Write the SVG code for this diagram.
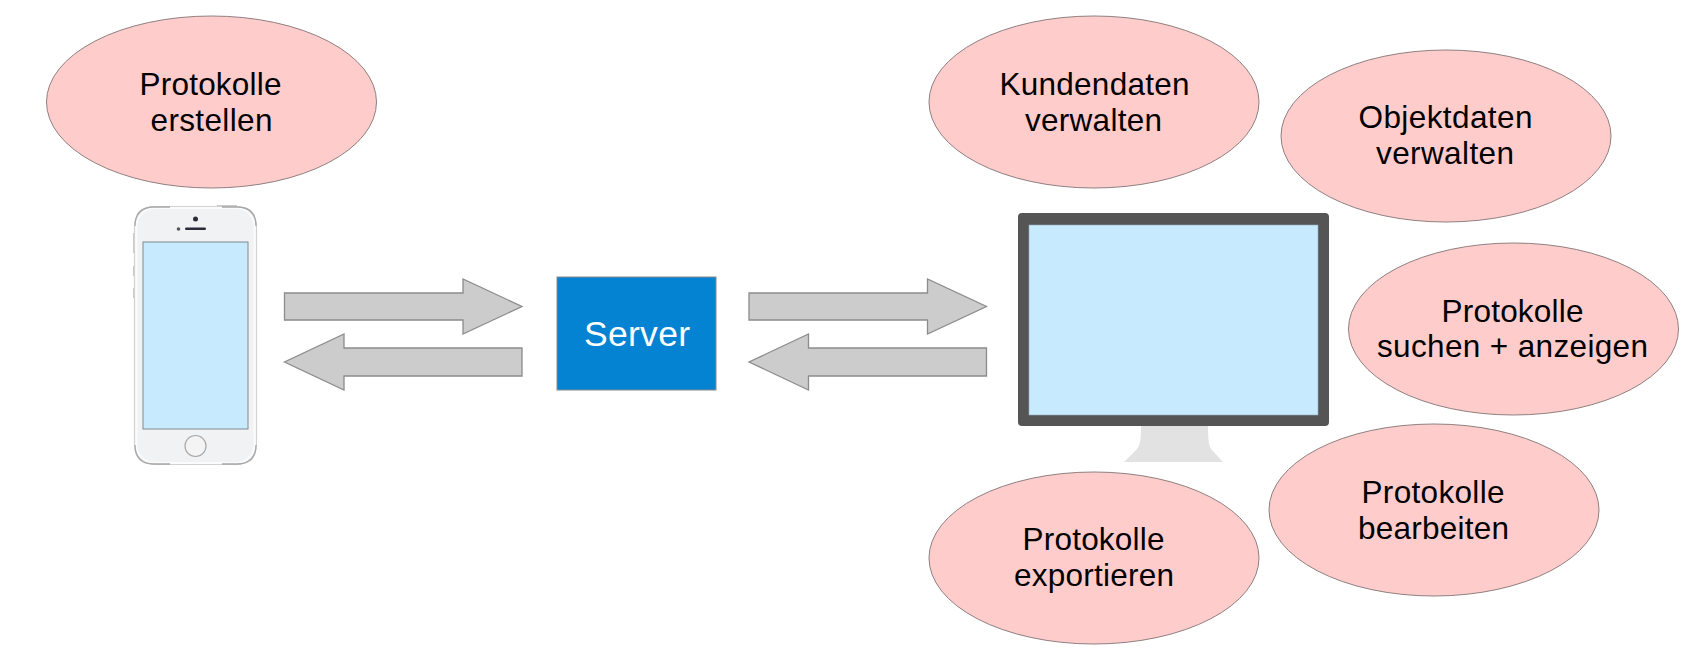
<svg xmlns="http://www.w3.org/2000/svg" width="1700" height="666" viewBox="0 0 1700 666">
<style>
.e{fill:#ffcccc;stroke:#8f7f7f;stroke-width:1}
.t{font-family:"Liberation Sans",Arial,sans-serif;font-size:31.5px;fill:#000;text-anchor:middle}
.a{fill:#cccccc;stroke:#8c8c8c;stroke-width:1.3}
.s{fill:#c7eaff}
.m{fill:none;stroke:#a8a8a8;stroke-width:1.300}
.b{fill:#c9c9c9}
</style>
<rect width="1700" height="666" fill="#fff"/>
<g id="connectors">
<path class="a" d="M284.500 293H463V279L522 306.500L463 334V320H284.500Z"/>
<path class="a" d="M522 348V376H344V390L284.500 362L344 334V348Z"/>
<path class="a" d="M749 293H927.500V279L986.500 306.500L927.500 334V320H749Z"/>
<path class="a" d="M986.500 348V376H808.500V390L749 362L808.500 334V348Z"/>
</g>
<g id="phone">
<rect class="b" x="217" y="205" width="20" height="2"/>
<rect class="b" x="133" y="233" width="1.500" height="20"/>
<rect class="b" x="133" y="266" width="1.500" height="10"/>
<rect class="b" x="133" y="288" width="1.500" height="10"/>
<rect x="134.500" y="206.500" width="122" height="258" rx="20" fill="#fbfbfb" stroke="#d2d2d2" stroke-width="1.200"/>
<rect x="137.500" y="209" width="116" height="253" rx="17" fill="#f1f2f4"/>
<path class="m" d="M135 226Q135 207 154 207H170M256 226Q256 207 237 207H222M135 445Q135 464 154 464H170M256 445Q256 464 237 464H222"/>
<rect x="143" y="242" width="105" height="187" class="s" stroke="#7f8a90" stroke-width="1"/>
<circle cx="195.500" cy="219" r="2.500" fill="#2b2b3a"/>
<rect x="185" y="227.500" width="21" height="2.500" rx="1.200" fill="#2b2b3a"/>
<circle cx="178.500" cy="229" r="1.800" fill="#555"/>
<circle cx="195.500" cy="446" r="10.500" fill="#f4f4f5" stroke="#a8a8a8" stroke-width="1.200"/>
</g>
<g id="server">
<rect x="557" y="277" width="159" height="113" fill="#0483d3" stroke="#8a8a8a" stroke-width="1"/>
<text x="637" y="345.500" font-family="Liberation Sans,Arial,sans-serif" font-size="35.500" fill="#fff" text-anchor="middle" textLength="106">Server</text>
</g>
<g id="monitor">
<path d="M1141 426H1208C1208 440 1209 446 1211 449L1223 462H1124L1137 449C1140 445 1141 440 1141 426Z" fill="#e2e2e2"/>
<rect x="1018" y="213" width="311" height="213" rx="4" fill="#555555"/>
<rect x="1029" y="225" width="289" height="190" class="s" stroke="#9ab" stroke-width=".6"/>
</g>
<g id="n1"><ellipse class="e" cx="211.500" cy="102" rx="165" ry="86"/><text class="t" x="210.500" y="95" textLength="142">Protokolle</text><text class="t" x="211.500" y="131" textLength="122">erstellen</text></g>
<g id="n2"><ellipse class="e" cx="1094" cy="102" rx="165" ry="86"/><text class="t" x="1094.500" y="95" textLength="190">Kundendaten</text><text class="t" x="1093.500" y="131" textLength="137">verwalten</text></g>
<g id="n3"><ellipse class="e" cx="1446" cy="136" rx="165" ry="86"/><text class="t" x="1445.500" y="128" textLength="174">Objektdaten</text><text class="t" x="1445" y="164" textLength="138">verwalten</text></g>
<g id="n4"><ellipse class="e" cx="1513.500" cy="329" rx="165" ry="86"/><text class="t" x="1512.500" y="322" textLength="142">Protokolle</text><text class="t" x="1512.500" y="357" textLength="271">suchen + anzeigen</text></g>
<g id="n5"><ellipse class="e" cx="1434" cy="510" rx="165" ry="86"/><text class="t" x="1433" y="503" textLength="143">Protokolle</text><text class="t" x="1433.500" y="539" textLength="151">bearbeiten</text></g>
<g id="n6"><ellipse class="e" cx="1094" cy="558" rx="165" ry="86"/><text class="t" x="1093.500" y="550" textLength="142">Protokolle</text><text class="t" x="1094" y="586" textLength="160">exportieren</text></g>
</svg>
